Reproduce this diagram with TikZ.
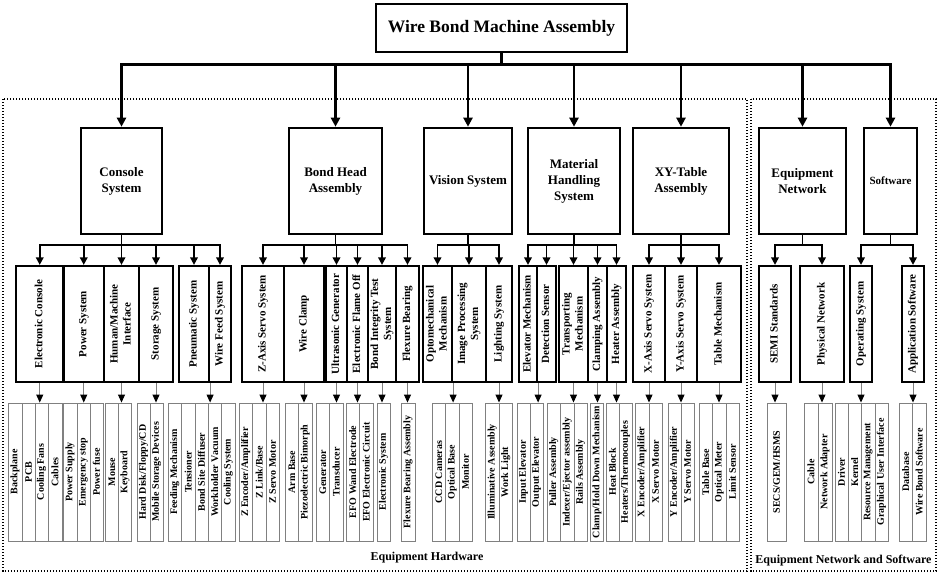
\documentclass[tikz,border=0pt]{standalone}
\usepackage{fontspec}
\setmainfont{Liberation Serif}
\usepackage{graphicx}
\usetikzlibrary{arrows.meta}
\newcommand\Ltwo[4]{\node[ltwobox,minimum width={#3-#2}] (#1) at ({(#2+#3)/2},181) {#4};}
\newcommand\Lthree[4]{\node[lthreebox,minimum width={#3-#2}] (#1) at ({(#2+#3)/2},324) {\rotatebox{90}{\begin{tabular}{@{}c@{}}#4\end{tabular}}};}
\newcommand\Lfour[4]{\node[lfourbox,minimum width={#3-#2}] (#1) at ({(#2+#3)/2},472) {\rotatebox{90}{#4}};}
\begin{document}
\begin{tikzpicture}[x=1pt,y=-1pt,
 titlebox/.style={draw,line width=2.8pt,inner sep=0pt,minimum width=251pt,minimum height=48pt,font=\fontsize{17.5}{20}\selectfont\bfseries},
 ltwobox/.style={draw,line width=2.6pt,inner sep=0pt,minimum height=106pt,align=center,font=\fontsize{13}{16}\selectfont\bfseries},
 lthreebox/.style={draw,line width=2.2pt,inner sep=0pt,minimum height=116pt,font=\fontsize{11}{13}\selectfont\bfseries},
 lfourbox/.style={draw=black!50,line width=0.9pt,inner sep=0pt,minimum height=138pt,font=\fontsize{10}{12}\selectfont\bfseries},
 dotbox/.style={line width=1.4pt,dash pattern=on 1.4pt off 1.6pt},
 toparrow/.style={line width=2.6pt,-{Triangle[length=9pt,width=9pt]}},
 midarrow/.style={line width=1.8pt,-{Triangle[length=7.5pt,width=7.5pt]}},
 lowarrow/.style={draw=black!50,line width=1pt,-{Triangle[length=8pt,width=7pt,color=black]}},
 grouplabel/.style={font=\fontsize{12}{14}\selectfont\bfseries,inner sep=0pt}
]
\useasboundingbox (0,0) rectangle (939,574);
\fill[white] (0,0) rectangle (939,574);
% group frames
\draw[dotbox] (3,99) rectangle (747,571);
\draw[dotbox] (751,99) rectangle (936,571);
\node[grouplabel] (hwlabel) at (427,558) {Equipment Hardware};
\node[grouplabel] (nslabel) at (843.5,561) {Equipment Network and Software};
% title
\node[titlebox] (title) at (501.5,28) {Wire Bond Machine Assembly};
% level 2
\Ltwo{console}{81}{162}{Console\\System}
\Ltwo{bondhead}{289}{382}{Bond Head\\Assembly}
\Ltwo{vision}{424}{512}{Vision System}
\Ltwo{material}{528}{620}{Material\\Handling\\System}
\Ltwo{xytable}{633}{729}{XY-Table\\Assembly}
\Ltwo{network}{759}{846}{Equipment\\Network}
\Ltwo{software}{864}{917}{\fontsize{11}{13}\selectfont Software}
% level 3
\Lthree{ec}{16}{63.5}{Electronic Console}
\Lthree{ps}{63.5}{104}{Power System}
\Lthree{hmi}{104}{139}{Human/Machine\\Interface}
\Lthree{ss}{139}{173}{Storage System}
\Lthree{pn}{179}{209}{Pneumatic System}
\Lthree{wf}{209}{231}{Wire Feed System}
\Lthree{zs}{242}{284}{Z-Axis Servo System}
\Lthree{wc}{284}{324}{Wire Clamp}
\Lthree{ug}{326}{347}{Ultrasonic Generator}
\Lthree{efo}{347}{368}{Electronic Flame Off}
\Lthree{bit}{368}{396}{Bond Integrity Test\\System}
\Lthree{fb}{396}{419}{Flexure Bearing}
\Lthree{om}{423}{452}{Optomechanical\\Mechanism}
\Lthree{ip}{452}{486}{Image Processing\\System}
\Lthree{ls}{486}{512}{Lighting System}
\Lthree{em}{519}{537}{Elevator Mechanism}
\Lthree{ds}{537}{556}{Detection Sensor}
\Lthree{tm}{559}{588}{Transporting\\Mechanism}
\Lthree{ca}{588}{607}{Clamping Assembly}
\Lthree{ha}{607}{626}{Heater Assembly}
\Lthree{xs}{633}{665}{X-Axis Servo System}
\Lthree{ys}{665}{697}{Y-Axis Servo System}
\Lthree{tmech}{697}{741}{Table Mechanism}
\Lthree{semi}{759}{791}{SEMI Standards}
\Lthree{pnet}{800}{844}{Physical Network}
\Lthree{os}{850}{872}{Operating System}
\Lthree{app}{902}{924}{Application Software}
% level 4
\Lfour{backplane}{8}{22}{Backplane}
\Lfour{pcb}{22}{35}{PCB}
\Lfour{fans}{35}{48}{Cooling Fans}
\Lfour{cables}{48}{62}{Cables}
\Lfour{psupply}{63}{77}{Power Supply}
\Lfour{estop}{77}{90}{Emergency stop}
\Lfour{pfuse}{90}{103}{Power fuse}
\Lfour{mouse}{105.5}{118.5}{Mouse}
\Lfour{keyboard}{118.5}{131.5}{Keyboard}
\Lfour{hdd}{137}{150}{Hard Disk/Floppy/CD}
\Lfour{msd}{150}{163}{Mobile Storage Devices}
\Lfour{feed}{168}{181.5}{Feeding Mechanism}
\Lfour{tens}{181.5}{195}{Tensioner}
\Lfour{bsd}{195}{208}{Bond Site Diffuser}
\Lfour{wv}{208}{221.5}{Workholder Vacuum}
\Lfour{cool}{221.5}{235}{Cooling System}
\Lfour{zenc}{239}{252.5}{Z Encoder/Amplifier}
\Lfour{zlink}{252.5}{266}{Z Link/Base}
\Lfour{zmot}{266}{279}{Z Servo Motor}
\Lfour{arm}{285}{298.5}{Arm Base}
\Lfour{piezo}{298.5}{312}{Piezoelectric Bimorph}
\Lfour{gen}{316}{329.5}{Generator}
\Lfour{trans}{329.5}{343}{Transducer}
\Lfour{wand}{346}{359.5}{EFO Wand Electrode}
\Lfour{efoc}{359.5}{373}{EFO Electronic Circuit}
\Lfour{esys}{377}{390}{Electronic System}
\Lfour{fba}{401}{415}{Flexure Bearing Assembly}
\Lfour{ccd}{432}{445.5}{CCD Cameras}
\Lfour{obase}{445.5}{459}{Optical Base}
\Lfour{mon}{459}{472}{Monitor}
\Lfour{illum}{485.5}{499}{Illuminative Assembly}
\Lfour{wlight}{499}{512.5}{Work Light}
\Lfour{inel}{517}{530}{Input Elevator}
\Lfour{outel}{530}{543}{Output Elevator}
\Lfour{puller}{547}{560.5}{Puller Assembly}
\Lfour{indexer}{560.5}{574}{Indexer/Ejector assembly}
\Lfour{rails}{574}{587}{Rails Assembly}
\Lfour{clamp}{590.5}{603.5}{Clamp/Hold Down Mechanism}
\Lfour{heat}{606}{619}{Heat Block}
\Lfour{thermo}{619}{632}{Heaters/Thermocouples}
\Lfour{xenc}{635}{649}{X Encoder/Amplifier}
\Lfour{xmot}{649}{662}{X Servo Motor}
\Lfour{yenc}{668}{681}{Y Encoder/Amplifier}
\Lfour{ymot}{681}{694}{Y Servo Motor}
\Lfour{tbase}{699}{712.5}{Table Base}
\Lfour{ometer}{712.5}{726}{Optical Meter}
\Lfour{limit}{726}{739}{Limit Sensor}
\Lfour{secs}{767}{786}{SECS/GEM/HSMS}
\Lfour{cable}{804}{818}{Cable}
\Lfour{nadapt}{818}{832}{Network Adapter}
\Lfour{driver}{835}{848}{Driver}
\Lfour{kernel}{848}{861.5}{Kernel}
\Lfour{resm}{861.5}{875}{Resource Management}
\Lfour{gui}{875}{888}{Graphical User Interface}
\Lfour{db}{899}{912.5}{Database}
\Lfour{wbs}{912.5}{926}{Wire Bond Software}
% connectors level 1 -> 2
\foreach \c in {console,bondhead,vision,material,xytable,network,software}
  \draw[toparrow] (title.south) -- ++(0,11) -| (\c.north);
% connectors level 2 -> 3
\foreach \c in {ec,ps,hmi,ss,pn,wf} \draw[midarrow] (console.south) -- ++(0,10) -| (\c.north);
\foreach \c in {zs,wc,ug,efo,bit,fb} \draw[midarrow] (bondhead.south) -- ++(0,10) -| (\c.north);
\foreach \c in {om,ip,ls} \draw[midarrow] (vision.south) -- ++(0,10) -| (\c.north);
\foreach \c in {em,ds,tm,ca,ha} \draw[midarrow] (material.south) -- ++(0,10) -| (\c.north);
\foreach \c in {xs,ys,tmech} \draw[midarrow] (xytable.south) -- ++(0,10) -| (\c.north);
\foreach \c in {semi,pnet} \draw[midarrow] (network.south) -- ++(0,10) -| (\c.north);
\foreach \c in {os,app} \draw[midarrow] (software.south) -- ++(0,10) -| (\c.north);
% connectors level 3 -> 4
\draw[lowarrow] (ec.south) -- (ec.south |- fans.north);
\draw[lowarrow] (ps.south) -- (ps.south |- estop.north);
\draw[lowarrow] (hmi.south) -- (hmi.south |- keyboard.north);
\draw[lowarrow] (ss.south) -- (ss.south |- msd.north);
\draw[lowarrow] (pn.south east) -- (pn.south east |- wv.north);
\draw[lowarrow] (zs.south) -- (zs.south |- zlink.north);
\draw[lowarrow] (wc.south) -- (wc.south |- piezo.north);
\draw[lowarrow] (ug.south) -- (ug.south |- trans.north);
\draw[lowarrow] (efo.south) -- (efo.south |- wand.north);
\draw[lowarrow] (bit.south) -- (bit.south |- esys.north);
\draw[lowarrow] (fb.south) -- (fb.south |- fba.north);
\draw[lowarrow] (om.south east) -- (om.south east |- obase.north);
\draw[lowarrow] (ls.south) -- (ls.south |- wlight.north);
\draw[lowarrow] (em.south east) -- (em.south east |- outel.north);
\draw[lowarrow] (tm.south) -- (tm.south |- indexer.north);
\draw[lowarrow] (ca.south) -- (ca.south |- clamp.north);
\draw[lowarrow] (ha.south) -- (ha.south |- heat.north);
\draw[lowarrow] (xs.south) -- (xs.south |- xmot.north);
\draw[lowarrow] (ys.south) -- (ys.south |- ymot.north);
\draw[lowarrow] (tmech.south) -- (tmech.south |- ometer.north);
\draw[lowarrow] (semi.south) -- (semi.south |- secs.north);
\draw[lowarrow] (pnet.south) -- (pnet.south |- nadapt.north);
\draw[lowarrow] (os.south) -- (os.south |- kernel.north);
\draw[lowarrow] (app.south) -- (app.south |- wbs.north);
\end{tikzpicture}
\end{document}
